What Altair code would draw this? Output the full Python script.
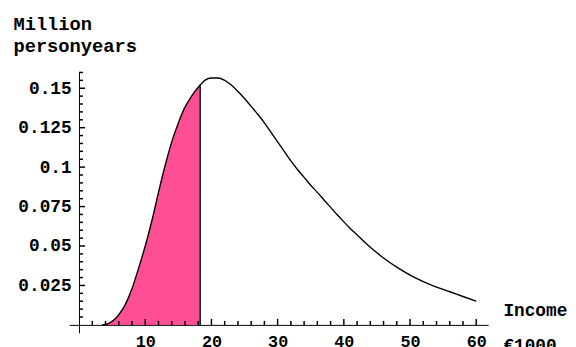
import altair as alt
import pandas as pd

# Curve (income in €1000, million personyears)
income = [3.5, 4.5, 5.5, 6, 7, 8, 9, 10, 11, 12, 13, 14, 15, 16, 17, 18.3, 19, 20, 21, 22, 23, 24, 25,
          26, 27, 28, 29, 30, 31, 32, 33, 34, 35, 36, 37, 38, 39, 40, 41, 42, 43, 44, 45, 46, 47, 48,
          50, 52, 54, 56, 58, 60]
persons = [0.0, 0.001, 0.004, 0.0064, 0.013, 0.023, 0.036, 0.050, 0.066, 0.084, 0.101, 0.116, 0.128,
           0.138, 0.145, 0.152, 0.155, 0.1565, 0.1565, 0.155, 0.152, 0.148, 0.1435, 0.1385, 0.1335,
           0.128, 0.122, 0.116, 0.110, 0.104, 0.0985, 0.0935, 0.0885, 0.084, 0.0792, 0.0745, 0.0698,
           0.0653, 0.061, 0.057, 0.053, 0.0492, 0.0457, 0.0424, 0.0394, 0.0366, 0.0316, 0.0275, 0.024,
           0.021, 0.018, 0.015]
cutoff = 18.3

x_major = [10, 20, 30, 40, 50, 60]
x_minor = [2, 4, 6, 8, 12, 14, 16, 18, 22, 24, 26, 28, 32, 34, 36, 38, 42, 44, 46, 48,
           52, 54, 56, 58]
y_major = [0.025, 0.05, 0.075, 0.1, 0.125, 0.15]
y_minor = [0.005, 0.01, 0.015, 0.02, 0.03, 0.035, 0.04, 0.045, 0.055, 0.06, 0.065, 0.07,
           0.08, 0.085, 0.09, 0.095, 0.105, 0.11, 0.115, 0.12, 0.13, 0.135, 0.14, 0.145,
           0.155, 0.16]

curve = pd.DataFrame({"x": income, "y": persons})
cut_df = pd.DataFrame({"x": [cutoff], "y0": [0.0], "y1": [persons[income.index(cutoff)]]})

# tick mark tables (inward ticks, Mathematica style); lengths in data units (~6px major, ~4px minor)
xt_df = pd.DataFrame({
    "t": x_major + x_minor,
    "a": [0.0] * (len(x_major) + len(x_minor)),
    "b": [0.0038] * len(x_major) + [0.0025] * len(x_minor),
})
yt_df = pd.DataFrame({
    "t": y_major + y_minor,
    "a": [0.0] * (len(y_major) + len(y_minor)),
    "b": [0.9] * len(y_major) + [0.6] * len(y_minor),
})

FONT = "Liberation Mono"
xs = alt.Scale(domain=[-1.5, 61.8], nice=False, zero=False)
ys = alt.Scale(domain=[-0.005, 0.1606], nice=False, zero=False)

x_axis = alt.Axis(
    values=x_major, offset=-8, ticks=False, tickSize=0, grid=False,
    domainColor="black", domainWidth=1, labelPadding=9, labelFont=FONT,
    labelFontSize=17, labelFontWeight="bold", labelColor="black",
    title=["Income", "€1000"], titleFont=FONT, titleFontSize=18, titleFontWeight="bold",
    titleColor="black", titleAngle=0, titleAlign="left", titleBaseline="alphabetic",
    titleX=440, titleY=-10, titleLineHeight=36,
)
y_axis = alt.Axis(
    values=y_major, labelExpr="'' + datum.value", offset=-10, ticks=False, tickSize=0,
    grid=False, domainColor="black", domainWidth=1, labelPadding=8, labelFont=FONT,
    labelFontSize=18, labelFontWeight="bold", labelColor="black",
    title=["Million", "personyears"], titleFont=FONT, titleFontSize=19, titleFontWeight="bold",
    titleColor="black", titleAngle=0, titleAlign="left", titleBaseline="alphabetic",
    titleX=-67, titleY=-43, titleLineHeight=23,
)

base = alt.Chart(curve)

area = base.mark_area(color="#ff4f94", opacity=1, interpolate="monotone").encode(
    x=alt.X("x:Q", scale=xs, axis=x_axis),
    y=alt.Y("y:Q", scale=ys, axis=y_axis),
).transform_filter(alt.datum.x <= cutoff)

line = base.mark_line(color="black", strokeWidth=1.4, interpolate="monotone").encode(
    x=alt.X("x:Q", scale=xs),
    y=alt.Y("y:Q", scale=ys),
)

cut_rule = alt.Chart(cut_df).mark_rule(color="black", strokeWidth=1.3).encode(
    x=alt.X("x:Q", scale=xs),
    y=alt.Y("y0:Q", scale=ys),
    y2="y1:Q",
)

x_ticks = alt.Chart(xt_df).mark_rule(color="black", strokeWidth=1.5).encode(
    x=alt.X("t:Q", scale=xs), y=alt.Y("a:Q", scale=ys), y2="b:Q")
y_ticks = alt.Chart(yt_df).mark_rule(color="black", strokeWidth=1.5).encode(
    y=alt.Y("t:Q", scale=ys), x=alt.X("a:Q", scale=xs), x2="b:Q")

chart = alt.layer(area, line, cut_rule, x_ticks, y_ticks).properties(
    width=425, height=265,
    autosize=alt.AutoSizeParams(type="none"),
    padding={"left": 62, "top": 62, "right": 81, "bottom": 12},
    background="white",
).configure_view(stroke=None)

chart.save("out.html", embed_options={"renderer": "svg", "actions": False})
